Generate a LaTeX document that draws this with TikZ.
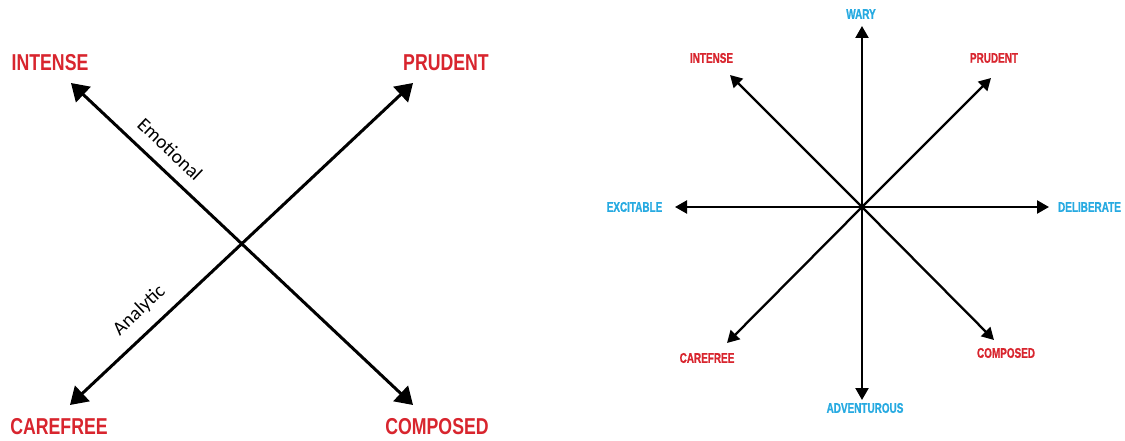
\documentclass[tikz,border=0pt]{standalone}
\usepackage{fontspec}
\usetikzlibrary{arrows.meta}
\setmainfont{Carlito}
\newfontfamily\bigcond[FakeStretch=0.77]{Liberation Sans}
\newfontfamily\smallcond[FakeStretch=0.71,FakeBold=1]{Liberation Sans}
\definecolor{lred}{RGB}{216,37,46}
\definecolor{lblue}{RGB}{39,170,225}
\tikzset{
  biglabel/.style={text=lred, inner sep=0pt, font=\bigcond\bfseries\fontsize{23}{23}\selectfont},
  smallred/.style={text=lred, inner sep=0pt, font=\smallcond\bfseries\fontsize{14}{14}\selectfont},
  smallblue/.style={text=lblue, inner sep=0pt, font=\smallcond\bfseries\fontsize{14}{14}\selectfont},
  bigaxis/.style={line width=3pt, {Triangle[length=17pt,width=21pt]}-{Triangle[length=17pt,width=21pt]}},
  smallaxis/.style={line width=2.3pt, -{Triangle[length=12pt,width=13pt]}},
  axislabel/.style={font=\fontsize{19.5}{19.5}\selectfont, inner sep=0pt, sloped, above=11.5pt}
}
\begin{document}
\begin{tikzpicture}[x=1pt,y=-1pt]
\useasboundingbox (0,0) rectangle (1125,441);
% ---------- left panel ----------
\node[biglabel] (LI) at (50,63) {INTENSE};
\node[biglabel] (LP) at (446,63) {PRUDENT};
\node[biglabel] (LC) at (59,427) {CAREFREE};
\node[biglabel] (LO) at (437,427) {COMPOSED};
\coordinate (tLI) at (71,83);
\coordinate (tLP) at (413,83);
\coordinate (tLC) at (70,405);
\coordinate (tLO) at (413,405);
\draw[bigaxis] (tLI) -- (tLO) node[axislabel, pos=0.25] (emo) {Emotional};
\draw[bigaxis] (tLC) -- (tLP) node[axislabel, pos=0.245] (ana) {Analytic};
% ---------- right panel ----------
\coordinate (C) at (862,207);
\node[smallblue] (RW) at (861,14) {WARY};
\node[smallblue] (RA) at (865,408) {ADVENTUROUS};
\node[smallblue] (RE) at (634.5,207) {EXCITABLE};
\node[smallblue] (RD) at (1089.5,207) {DELIBERATE};
\node[smallred] (RI) at (711.5,58) {INTENSE};
\node[smallred] (RP) at (994,58) {PRUDENT};
\node[smallred] (RC) at (707,358) {CAREFREE};
\node[smallred] (RO) at (1006,353) {COMPOSED};
\coordinate (tRW) at (862,26);
\coordinate (tRA) at (862,400);
\coordinate (tRE) at (675,207);
\coordinate (tRD) at (1049,207);
\coordinate (tRI) at (730,75);
\coordinate (tRP) at (991,78);
\coordinate (tRC) at (727,343);
\coordinate (tRO) at (994,340);
\foreach \t in {tRW,tRA,tRE,tRD,tRI,tRP,tRC,tRO}
  \draw[smallaxis] (C) -- (\t);
\end{tikzpicture}
\end{document}
